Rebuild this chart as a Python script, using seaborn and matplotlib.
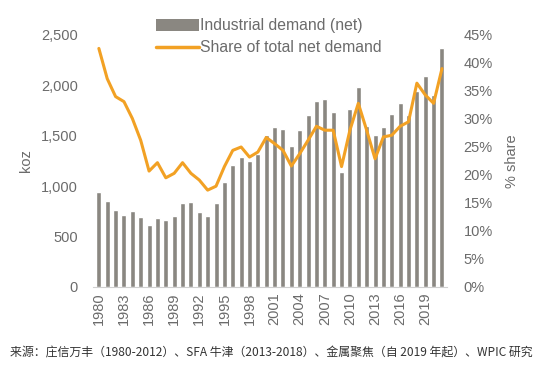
import numpy as np
import pandas as pd
import seaborn as sns
import matplotlib.pyplot as plt
from matplotlib.patches import Patch
from matplotlib.lines import Line2D
from matplotlib.ticker import FuncFormatter, PercentFormatter

years = list(range(1980, 2022))
industrial = [940, 850, 765, 710, 755, 690, 620, 680, 665, 700,
              830, 840, 745, 705, 830, 1040, 1215, 1290, 1250, 1315,
              1505, 1585, 1570, 1395, 1555, 1710, 1850, 1870, 1740, 1140,
              1765, 1985, 1600, 1510, 1590, 1720, 1825, 1710, 1940, 2095,
              1900, 2375]
share = [42.6, 37.2, 34.0, 33.1, 30.1, 26.2, 20.7, 22.2, 19.5, 20.3,
         22.2, 20.3, 19.1, 17.3, 18.0, 21.5, 24.4, 25.0, 23.2, 24.1,
         26.7, 25.6, 24.4, 21.6, 23.8, 26.2, 28.7, 28.0, 28.0, 21.5,
         28.0, 32.8, 28.0, 22.9, 26.8, 27.1, 28.7, 29.5, 36.4, 34.3,
         32.8, 39.0]
source = "来源：庄信万丰（1980-2012）、SFA 牛津（2013-2018）、金属聚焦（自 2019 年起）、WPIC 研究"

df = pd.DataFrame({"year": [str(y) for y in years], "industrial": industrial, "share": share})
df["pos"] = np.arange(len(df))

sns.set_style("white")
plt.rcParams['font.family'] = ['Liberation Sans', 'DejaVu Sans']
grey_txt = "#6b6b6b"
bar_col = "#8a8781"
line_col = "#f2a124"

fig = plt.figure(figsize=(5.4, 3.69), dpi=100)
ax = fig.add_axes([93/540, 1 - 287/369, (447 - 93)/540, (287 - 35)/369])

sns.barplot(data=df, x="year", y="industrial", color=bar_col, width=0.6,
            saturation=1, ax=ax)
ax.set_ylim(0, 2500)
ax.set_xlim(-0.7, len(df) - 0.4)
ax.yaxis.set_major_formatter(FuncFormatter(lambda v, p: f"{int(v):,}"))
ax.set_yticks(range(0, 2501, 500))
ax.set_xticks(df["pos"][::3])
ax.set_xticklabels(df["year"][::3], rotation=90)
ax.set_xlabel("")
ax.set_ylabel("koz", color=grey_txt, fontsize=10.5, labelpad=6)
ax.tick_params(axis="y", colors=grey_txt, labelsize=10.5, length=0, pad=11)
ax.tick_params(axis="x", colors=grey_txt, labelsize=10.5, length=0, pad=4)

ax2 = ax.twinx()
sns.lineplot(data=df, x="pos", y="share", color=line_col, linewidth=2.2, ax=ax2)
ax2.set_ylim(0, 45)
ax2.set_yticks(range(0, 46, 5))
ax2.yaxis.set_major_formatter(PercentFormatter(decimals=0))
ax2.set_ylabel("% share", color=grey_txt, fontsize=10.5, labelpad=9)
ax2.set_xlabel("")
ax2.tick_params(axis="y", colors=grey_txt, labelsize=10.5, length=0, pad=12)

for a in (ax, ax2):
    for s in a.spines.values():
        s.set_visible(False)
ax.spines["bottom"].set_visible(True)
ax.spines["bottom"].set_color("#d0d0d0")

handles = [Patch(facecolor=bar_col, edgecolor="none"),
           Line2D([0], [0], color=line_col, linewidth=2.5)]
fig.legend(handles, ["Industrial demand (net)", "Share of total net demand"],
           loc="upper left", bbox_to_anchor=(150/540, 1 - 12/369), frameon=False,
           fontsize=11.3, handlelength=2.7, handleheight=0.8, handletextpad=0.1,
           labelspacing=0.45, labelcolor=grey_txt, borderaxespad=0)

fig.text(10/540, 1 - 353/369, source, fontsize=8.6, color="#333333", style="italic",
         va="center", ha="left", family=['Noto Sans CJK SC', 'DejaVu Sans'])

fig.savefig("out.png", dpi=100)
plt.close()
